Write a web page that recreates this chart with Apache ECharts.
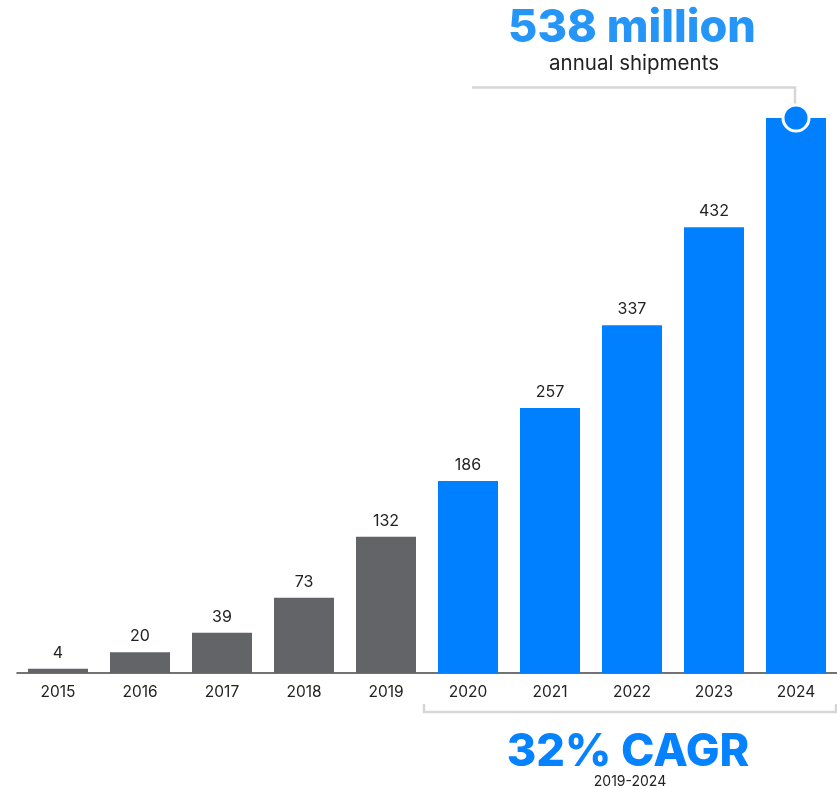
<!DOCTYPE html>
<html>
<head>
<meta charset="utf-8">
<script src="https://cdn.jsdelivr.net/npm/echarts@6/dist/echarts.min.js"></script>
<style>
html,body{margin:0;padding:0;background:#fff;}
#chart{width:837px;height:788px;}
</style>
</head>
<body>
<div id="chart"></div>
<script>
const years = ['2015','2016','2017','2018','2019','2020','2021','2022','2023','2024'];
const shipments = [4, 20, 39, 73, 132, 186, 257, 337, 432, 538];
const highlightFrom = '2020';
const headline = '538 million';
const headlineSub = 'annual shipments';
const cagrText = '32% CAGR';
const cagrRange = '2019-2024';

const GRAY = '#636468';
const BLUE = '#0080FF';
const FONT = 'Inter, "Noto Sans", sans-serif';

const chart = echarts.init(document.getElementById('chart'));
const hiIdx = years.indexOf(highlightFrom);
const lastIdx = years.length - 1;

chart.setOption({
  animation: false,
  grid: { left: 17, right: -1, top: 118, bottom: 115, containLabel: false },
  xAxis: {
    type: 'category',
    data: years,
    axisLine: { lineStyle: { color: '#444', width: 1.5 } },
    axisTick: { show: false },
    axisLabel: { color: '#222', fontSize: 15.5, fontFamily: FONT, margin: 11 }
  },
  yAxis: {
    type: 'value', min: 0, max: 538,
    show: false, splitLine: { show: false }
  },
  series: [{
    type: 'bar',
    barWidth: 60,
    data: shipments.map((v, i) => ({
      value: v,
      itemStyle: { color: i >= hiIdx ? BLUE : GRAY },
      label: { show: i !== lastIdx }
    })),
    label: {
      show: true, position: 'top', distance: 8,
      color: '#222', fontSize: 16, fontFamily: FONT
    },
    markPoint: {
      symbol: 'circle', symbolSize: 26,
      itemStyle: { color: BLUE, borderColor: '#fff', borderWidth: 3 },
      label: { show: false },
      data: [{ coord: [lastIdx, shipments[lastIdx]] }]
    }
  }]
});

const peakPx = chart.convertToPixel({ xAxisIndex: 0, yAxisIndex: 0 }, [lastIdx, shipments[lastIdx]]);
const basePx = chart.convertToPixel({ yAxisIndex: 0 }, 0);
const lineColor = '#d6d6d4';

chart.setOption({
  graphic: [
    { type: 'polyline', z: 1, shape: { points: [[472, 87.5], [peakPx[0] - 1, 87.5], [peakPx[0] - 1, peakPx[1] - 14]] },
      style: { stroke: lineColor, lineWidth: 2.5, fill: null } },
    { type: 'text', style: { text: headline, x: 632, y: 28, textAlign: 'center', textVerticalAlign: 'middle',
      font: '800 45px ' + FONT, fill: '#2595F7' } },
    { type: 'text', style: { text: headlineSub, x: 634, y: 64, textAlign: 'center', textVerticalAlign: 'middle',
      font: '400 20.5px ' + FONT, fill: '#222' } },
    { type: 'polyline', shape: { points: [[424, basePx + 31], [424, basePx + 39], [836, basePx + 39], [836, basePx + 31]] },
      style: { stroke: lineColor, lineWidth: 2.5, fill: null } },
    { type: 'text', style: { text: cagrText, x: 628, y: 752, textAlign: 'center', textVerticalAlign: 'middle',
      font: '800 45px ' + FONT, fill: '#0582FF' } },
    { type: 'text', style: { text: cagrRange, x: 630, y: 782, textAlign: 'center', textVerticalAlign: 'middle',
      font: '400 14px ' + FONT, fill: '#222' } }
  ]
});
</script>
</body>
</html>
